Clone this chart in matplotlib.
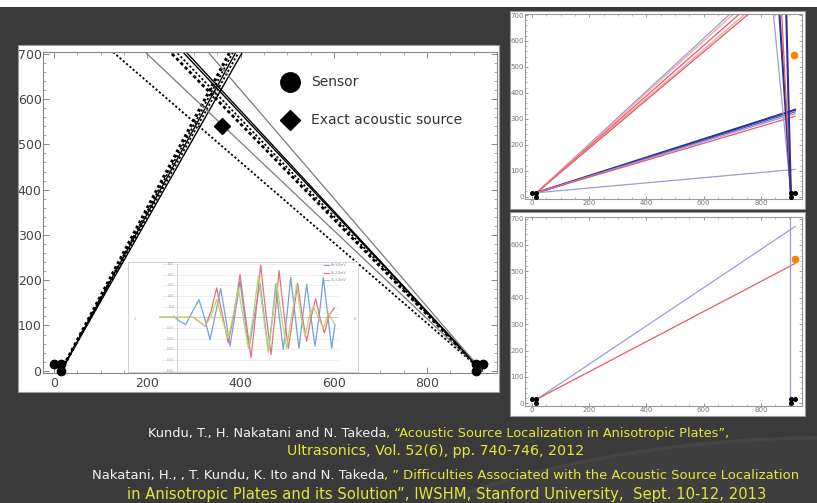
import matplotlib
matplotlib.use("Agg")
import matplotlib.pyplot as plt
from matplotlib.patches import Rectangle, Ellipse
from matplotlib import font_manager
from matplotlib.ticker import MultipleLocator

W, H = 817, 503

# ---------------- data ----------------
# main panel
sensor_x = [0, 15, 15, 905, 920, 905]
sensor_y = [15, 15, 0, 15, 15, 0]
source_x = [360]
source_y = [540]

left_origin = (15, 0)
left_top_x = [377, 384, 390, 396, 404]
left_styles = ["heavydot", "dot", "solid", "dot", "solid"]

right_origin = (918, 0)
right_top_x = [126, 195, 249, 262, 276, 283, 330]
right_styles = ["dot", "gray", "heavydash", "dot", "solid", "solid", "gray"]
top_y = 704

# inset waveform (arbitrary time units, amplitude in grid units)
ch1_t = [105, 150, 165, 182, 200, 222, 240, 255, 270, 287, 302, 315, 330, 345, 358, 372, 388,
         405, 418, 430, 442, 452, 463, 475, 486, 497, 510, 522, 533, 545, 558, 570, 583, 595,
         608, 620, 630]
ch1_v = [0, 0, -0.38, -0.69, 0.4, 1.66, -0.2, -2.1, 0.1, 2.7, -0.06, -2.7, 0.25, 3.4, 0.25, -2.9,
         0.1, 3.2, 0, -3.2, 0, 3.1, 0, -3.0, 0.25, 3.75, 0.25, -2.9, 0, 3.1, 0, -2.7, 0.25, 3.75,
         0.25, -2.9, -0.7]
ch2_t = [105, 205, 222, 240, 258, 275, 292, 310, 328, 345, 362, 378, 392, 407, 422, 438, 450,
         462, 476, 490, 504, 518, 531, 545, 558, 572, 585, 598, 613, 628]
ch2_v = [0, 0, -0.38, -0.85, 0.56, 2.75, 0.25, -2.4, 0.56, 4.0, -0.06, -3.8, 0.25, 4.9, 0.56,
         -3.5, 0.1, 4.4, 0.56, -2.9, 0.1, 3.2, 0.25, -2.25, -0.06, 1.75, -0.06, -1.47, 0.25, 0.875]
ch3_t = [105, 205, 222, 240, 258, 275, 292, 310, 325, 340, 355, 370, 385, 400, 415, 430, 443,
         455, 470, 485, 500, 515, 528, 540, 553, 565, 580, 595, 610, 630]
ch3_v = [0, 0, -0.38, -0.85, 0.1, 1.66, -0.2, -1.94, 0.25, 2.7, -0.06, -2.9, 0.25, 3.85, 0.25,
         -3.3, -0.06, 3.2, -0.06, -2.9, 0.1, 3.06, 0.1, -1.8, 0.1, 1.03, -0.06, -1.0, 0.4, -0.7]
inset_labels = ["Ch.1,0mV", "Ch.2,0mV", "Ch.3,0mV"]
inset_yticks = [5, 4, 3, 2, 1, 0, -1, -2, -3, -4, -5]
inset_ylabels = ["5000", "4000", "3000", "2000", "1000", "0", "-1000", "-2000", "-3000", "-4000", "-5000"]

# top-right panel: lines (x0, y0, x1, y1, colour-key)
tr_lines = [
    (15, 15, 692, 704, "lav"),
    (15, 15, 704, 704, "pink"),
    (15, 15, 725, 704, "red"),
    (15, 15, 745, 704, "pink"),
    (15, 15, 757, 704, "red"),
    (15, 15, 920, 335, "dblue"),
    (15, 15, 920, 327, "blue"),
    (15, 15, 920, 320, "lav"),
    (15, 15, 920, 310, "red"),
    (15, 15, 920, 105, "lav"),
    (905, 15, 844, 704, "lav"),
    (905, 15, 865, 704, "dblue"),
    (905, 15, 873, 704, "red"),
    (905, 15, 889, 704, "dblue"),
]
tr_dot = (917, 545)

# bottom-right panel
br_lines = [
    (15, 15, 920, 670, "lav"),
    (15, 15, 920, 530, "red"),
    (903, 0, 903, 710, "lav"),
]
br_dot = (918, 548)

ref1_white = "Kundu, T., H. Nakatani and N. Takeda"
ref1_yellow = ", \u201cAcoustic Source Localization in Anisotropic Plates\u201d,"
ref2_yellow = "Ultrasonics, Vol. 52(6), pp. 740-746, 2012"
ref3_white = "Nakatani, H., , T. Kundu, K. Ito and N. Takeda"
ref3_yellow = ", \u201d Difficulties Associated with the Acoustic Source Localization"
ref4_yellow = "in Anisotropic Plates and its Solution\u201d, IWSHM, Stanford University,  Sept. 10-12, 2013"

# ---------------- styling ----------------
BG = "#3a3a3a"
YEL = "#e6e63a"
WHT = "#f2f2f2"
pal = {"lav": "#9c9cd6", "pink": "#f2a3a8", "red": "#e85a62", "blue": "#5a5ab8", "dblue": "#2e2e96"}

names = {f.name for f in font_manager.fontManager.ttflist}
slide_font = "Liberation Sans Narrow" if "Liberation Sans Narrow" in names else "DejaVu Sans"

fig = plt.figure(figsize=(W / 100, H / 100), dpi=100, facecolor=BG)


def box(l, t, r, b):
    return [l / W, 1 - b / H, (r - l) / W, (b - t) / H]


def frect(l, t, r, b, fc, ec="none", lw=0.0, z=-3):
    fig.patches.append(Rectangle((l / W, 1 - b / H), (r - l) / W, (b - t) / H, transform=fig.transFigure,
                                 facecolor=fc, edgecolor=ec, linewidth=lw, zorder=z))


# subtle background swoosh
fig.patches.append(Ellipse((1.02, -0.42), 1.5, 1.1, transform=fig.transFigure, facecolor="#3f3f3f",
                           edgecolor="#454545", linewidth=2.5, zorder=-5))

# top white strip and panel boxes
frect(0, 0, W, 7, "white")
frect(18, 45, 499, 392, "white", "#9a9a9a", 0.8)
frect(510, 11, 805, 209, "white", "#9a9a9a", 0.8)
frect(510, 212, 805, 416, "white", "#9a9a9a", 0.8)


def frame_axes(ax, xlim, ylim, tick_fs, tick_col, xmaj, xmin, ymaj, ymin, maj_len, min_len, spine_col):
    ax.set_xlim(*xlim)
    ax.set_ylim(*ylim)
    ax.set_facecolor("white")
    for s in ax.spines.values():
        s.set_color(spine_col)
        s.set_linewidth(0.8)
    ax.xaxis.set_major_locator(MultipleLocator(xmaj))
    ax.xaxis.set_minor_locator(MultipleLocator(xmin))
    ax.yaxis.set_major_locator(MultipleLocator(ymaj))
    ax.yaxis.set_minor_locator(MultipleLocator(ymin))
    ax.tick_params(which="both", direction="in", top=True, right=True, colors=spine_col,
                   labelcolor=tick_col, labelsize=tick_fs)
    ax.tick_params(which="major", length=maj_len, width=0.7)
    ax.tick_params(which="minor", length=min_len, width=0.5)


# ---------------- main panel ----------------
ax = fig.add_axes(box(43, 52, 497, 373))
frame_axes(ax, (-24, 950), (-5, top_y), 9, "#444444", 200, 50, 100, 20, 4, 2.5, "#888888")
ax.tick_params(axis="x", pad=3)
ax.tick_params(axis="y", pad=1)

style_map = {
    "heavydot": dict(color="black", lw=2.3, ls=(0, (0.9, 0.9))),
    "heavydash": dict(color="black", lw=2.0, ls=(0, (1.2, 1.0))),
    "dot": dict(color="black", lw=1.3, ls=(0, (1.2, 1.2))),
    "solid": dict(color="black", lw=1.0, ls="-"),
    "gray": dict(color="#7a7a7a", lw=0.9, ls="-"),
}
for xt, st in zip(left_top_x, left_styles):
    ax.plot([left_origin[0], xt], [left_origin[1], top_y], **style_map[st], zorder=2)
for xt, st in zip(right_top_x, right_styles):
    ax.plot([right_origin[0], xt], [right_origin[1], top_y], **style_map[st], zorder=2)

ax.plot(sensor_x, sensor_y, "o", color="black", ms=6, zorder=4, clip_on=False)
ax.plot(source_x, source_y, "D", color="black", ms=8, zorder=4)

# legend (drawn as marks + text)
ax.plot([0.545], [0.905], "o", color="black", ms=14, transform=ax.transAxes)
ax.text(0.59, 0.905, "Sensor", transform=ax.transAxes, fontsize=10, color="#333333", va="center")
ax.plot([0.545], [0.787], "D", color="black", ms=10, transform=ax.transAxes)
ax.text(0.59, 0.787, "Exact acoustic source", transform=ax.transAxes, fontsize=10, color="#333333",
        va="center")

# ---------------- inset waveform ----------------
ia = fig.add_axes(box(128, 262, 358, 372), zorder=5)
ia.set_xlim(9, 699)
ia.set_ylim(-5.125, 5.19)
ia.set_facecolor("white")
for s in ia.spines.values():
    s.set_color("#cccccc")
    s.set_linewidth(0.6)
ia.set_xticks([])
ia.set_yticks([])
for yv in inset_yticks:
    ia.plot([110, 640], [yv, yv], color="#e6e6e6", lw=0.5, zorder=1)
ia.plot([155, 155], [-5, 5], color="#d0d0d0", lw=0.6, zorder=1)
ia.plot([110, 640], [0, 0], color="#c8c8c8", lw=0.6, zorder=1)
for yv, lab in zip(inset_yticks, inset_ylabels):
    ia.text(148, yv, lab, fontsize=1.8, color="#999999", ha="right", va="center")
ia.text(30, -0.2, "0", fontsize=2, color="#999999", ha="center", va="center")
ia.text(690, -0.2, "10", fontsize=2, color="#999999", ha="center", va="center")
wcol = ["#72a2d8", "#e4727c", "#bcd46c"]
ia.plot(ch1_t, ch1_v, color=wcol[0], lw=0.9, zorder=3)
ia.plot(ch2_t, ch2_v, color=wcol[1], lw=0.9, zorder=3)
ia.plot(ch3_t, ch3_v, color=wcol[2], lw=0.9, zorder=3)
for i, (lab, c) in enumerate(zip(inset_labels, wcol)):
    yy = 4.9 - i * 0.72
    ia.plot([598, 612], [yy, yy], color=c, lw=0.8)
    ia.text(618, yy, lab, fontsize=2.3, color="#888888", va="center")

# ---------------- top-right panel ----------------
a2 = fig.add_axes(box(525, 14, 802, 199))
frame_axes(a2, (-25, 944), (-9, 704), 5, "#777777", 200, 50, 100, 20, 2.5, 1.5, "#999999")
a2.tick_params(pad=1)
for x0, y0, x1, y1, k in tr_lines:
    lw = 1.5 if k == "dblue" else 0.9
    a2.plot([x0, x1], [y0, y1], color=pal[k], lw=lw)
a2.plot(sensor_x, sensor_y, "o", color="black", ms=2.6, clip_on=False, zorder=4)
a2.plot([tr_dot[0]], [tr_dot[1]], "o", color="#ff8000", ms=4.5, zorder=4)

# ---------------- bottom-right panel ----------------
a3 = fig.add_axes(box(525, 217, 802, 406))
frame_axes(a3, (-25, 944), (-10, 706), 5, "#777777", 200, 50, 100, 20, 2.5, 1.5, "#999999")
a3.tick_params(pad=1)
for x0, y0, x1, y1, k in br_lines:
    a3.plot([x0, x1], [y0, y1], color=pal[k], lw=0.9)
a3.plot(sensor_x, sensor_y, "o", color="black", ms=2.6, clip_on=False, zorder=4)
a3.plot([br_dot[0]], [br_dot[1]], "o", color="#ff8000", ms=4.5, zorder=4)

# ---------------- reference text ----------------
renderer = fig.canvas.get_renderer()


def ref_line(parts, left, right, yc, base=10):
    # parts: list of (text, colour); fit total width to [left, right]
    texts = []
    for s, c in parts:
        texts.append(fig.text(0, 1 - yc / H, s, color=c, fontsize=base, family=[slide_font, "DejaVu Sans"],
                              va="center", ha="left"))
    tot = sum(t.get_window_extent(renderer).width for t in texts)
    fs = base * (right - left) / tot
    x = left
    for t in texts:
        t.set_fontsize(fs)
        t.set_x(x / W)
        x += t.get_window_extent(renderer).width


ref_line([(ref1_white, WHT), (ref1_yellow, YEL)], 148, 727, 433)
ref_line([(ref2_yellow, YEL)], 287, 583, 451)
ref_line([(ref3_white, WHT), (ref3_yellow, YEL)], 92, 800, 476)
ref_line([(ref4_yellow, YEL)], 127, 760, 494)

fig.savefig("out.png", dpi=100, facecolor=BG)
